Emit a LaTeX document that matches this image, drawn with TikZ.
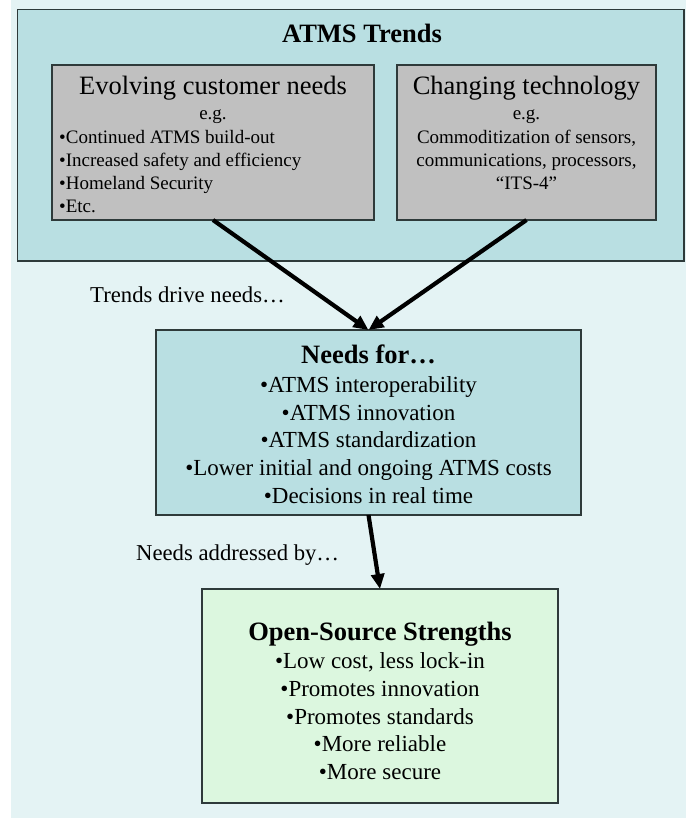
\documentclass[tikz,border=0pt]{standalone}
\usepackage{fontspec}
\setmainfont{Liberation Serif}
\usetikzlibrary{arrows.meta}
\definecolor{bgc}{HTML}{E4F3F4}
\definecolor{tealc}{HTML}{B9DFE2}
\definecolor{grayc}{HTML}{C0C0C0}
\definecolor{greenc}{HTML}{DCF7DF}
\definecolor{edgec}{HTML}{2E3A3A}
\begin{document}
\begin{tikzpicture}[x=1pt,y=-1pt,
  box/.style={draw=edgec, line width=1.8pt, inner sep=0pt, outer sep=0pt},
  txt/.style={inner sep=0pt, anchor=base},
  txtw/.style={inner sep=0pt, anchor=base west},
  headf/.style={font=\fontsize{26.5}{30}\selectfont\bfseries},
  subhf/.style={font=\fontsize{26.5}{30}\selectfont},
  smallf/.style={font=\fontsize{19}{23}\selectfont},
  midf/.style={font=\fontsize{23}{27}\selectfont},
  labf/.style={font=\fontsize{22.7}{27}\selectfont},
  arr/.style={line width=4.2pt, -{Triangle[length=15pt,width=13pt]}}
]
\useasboundingbox (0,0) rectangle (689,818);
\fill[bgc] (11,0) rectangle (686,818);

% boxes
\node[box, fill=tealc, minimum width=666.5pt, minimum height=251.5pt] (trends) at (350.75,135.25) {};
\node[box, fill=grayc, minimum width=322pt, minimum height=155pt] (lgray) at (213,142.5) {};
\node[box, fill=grayc, minimum width=259pt, minimum height=155pt] (rgray) at (526.5,142.5) {};
\node[box, fill=tealc, minimum width=425pt, minimum height=185pt] (needs) at (368.5,422.5) {};
\node[box, fill=greenc, minimum width=356pt, minimum height=214pt] (oss) at (380,696) {};

% ATMS Trends
\node[txt, headf] (t0) at (362,42.7) {ATMS Trends};

% left gray box
\node[txt, subhf] (l0) at (213,95) {Evolving customer needs};
\node[txt, smallf] (l1) at (213,120) {e.g.};
\node[txtw, smallf] (l2) at (59,143.3) {•Continued ATMS build-out};
\node[txtw, smallf] (l3) at (59,166.7) {•Increased safety and efficiency};
\node[txtw, smallf] (l4) at (59,189.3) {•Homeland Security};
\node[txtw, smallf] (l5) at (59,212.3) {•Etc.};

% right gray box
\node[txt, subhf] (r0) at (526.5,95) {Changing technology};
\node[txt, smallf] (r1) at (526.5,120) {e.g.};
\node[txt, smallf] (r2) at (526.5,143.3) {Commoditization of sensors,};
\node[txt, smallf] (r3) at (526.5,166.7) {communications, processors,};
\node[txt, smallf] (r4) at (526.5,189.3) {“ITS-4”};

% needs box
\node[txt, headf] (n0) at (368.5,363.3) {Needs for…};
\node[txt, midf] (n1) at (368.5,392.7) {•ATMS interoperability};
\node[txt, midf] (n2) at (368.5,420.7) {•ATMS innovation};
\node[txt, midf] (n3) at (368.5,447.8) {•ATMS standardization};
\node[txt, midf] (n4) at (368.5,475.7) {•Lower initial and ongoing ATMS costs};
\node[txt, midf] (n5) at (368.5,503.3) {•Decisions in real time};

% open source box
\node[txt, headf] (o0) at (380,640) {Open-Source Strengths};
\node[txt, midf] (o1) at (380,668.3) {•Low cost, less lock-in};
\node[txt, midf] (o2) at (380,696) {•Promotes innovation};
\node[txt, midf] (o3) at (380,724) {•Promotes standards};
\node[txt, midf] (o4) at (380,751.5) {•More reliable};
\node[txt, midf] (o5) at (380,779) {•More secure};

% labels
\node[txtw, labf] (lab1) at (90,302.3) {Trends drive needs…};
\node[txtw, labf] (lab2) at (136,560) {Needs addressed by…};

% arrows
\draw[arr] (lgray.south) -- (needs.north);
\draw[arr] (rgray.south) -- (needs.north);
\draw[arr] (needs.south) -- (oss.north);
\end{tikzpicture}
\end{document}
